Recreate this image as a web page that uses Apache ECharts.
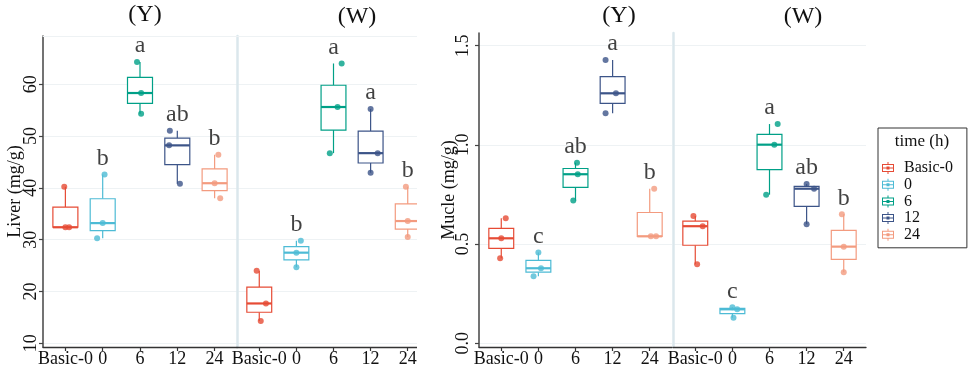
<!DOCTYPE html>
<html>
<head>
<meta charset="utf-8">
<script src="https://cdn.jsdelivr.net/npm/echarts@6/dist/echarts.min.js"></script>
<style>
html,body{margin:0;padding:0;background:#fff;}
#chart{width:969px;height:372px;}
</style>
</head>
<body>
<div id="chart"></div>
<script>
var categories = ['Basic-0', '0', '6', '12', '24'];
var colors = ['#E64B35', '#4DBBD5', '#00A087', '#3C5488', '#F39B7F'];

// three samples per group
var liverYValues = [[40.2, 32.4, 32.4], [42.6, 33.2, 30.3], [64.3, 58.3, 54.3], [51.0, 48.2, 40.8], [46.4, 40.9, 38.0]];
var liverWValues = [[24.0, 17.7, 14.3], [29.8, 27.5, 24.7], [64.0, 55.6, 46.7], [55.2, 46.7, 42.9], [40.2, 33.6, 30.5]];
var mucleYValues = [[0.630, 0.529, 0.428], [0.458, 0.378, 0.338], [0.910, 0.852, 0.719], [1.428, 1.260, 1.159], [0.779, 0.539, 0.539]];
var mucleWValues = [[0.642, 0.590, 0.398], [0.181, 0.171, 0.128], [1.105, 1.001, 0.749], [0.803, 0.779, 0.600], [0.650, 0.487, 0.358]];

var liverYLetters = ['', 'b', 'a', 'ab', 'b'];
var liverWLetters = ['', 'b', 'a', 'a', 'b'];
var mucleYLetters = ['', 'c', 'ab', 'a', 'b'];
var mucleWLetters = ['', 'c', 'a', 'ab', 'b'];

var liverTicks = [10, 20, 30, 40, 50, 60];
var mucleTicks = [0, 0.5, 1.0, 1.5];

// horizontal jitter of the points (in category units)
var liverYJitter = [[-0.03, 0, 0.1], [0.05, 0, -0.15], [-0.08, 0.03, 0.03], [-0.2, -0.22, 0.07], [0.1, 0, 0.15]];
var liverWJitter = [[-0.07, 0.18, 0.04], [0.12, 0, 0], [0.22, 0.11, -0.1], [0, 0.19, 0], [-0.05, 0, 0]];
var mucleYJitter = [[0.12, 0, -0.03], [0, 0.07, -0.13], [0.04, 0.06, -0.06], [-0.19, 0.09, -0.19], [0.12, 0.03, 0.17]];
var mucleWJitter = [[-0.05, 0.2, 0.05], [0, 0.13, 0.03], [0.22, 0.13, -0.09], [0, 0.2, 0], [-0.05, 0, 0]];

var serif = '"Liberation Serif", "Times New Roman", serif';
var txt = '#111';

function quantile(s, p) {
  var h = (s.length - 1) * p, lo = Math.floor(h);
  var hi = Math.min(lo + 1, s.length - 1);
  return s[lo] + (h - lo) * (s[hi] - s[lo]);
}
function boxStats(vals) {
  var s = vals.slice().sort(function (a, b) { return a - b; });
  return [s[0], quantile(s, 0.25), quantile(s, 0.5), quantile(s, 0.75), s[s.length - 1]];
}

var panels = [
  { values: liverYValues, jitter: liverYJitter, letters: liverYLetters, ticks: liverTicks, min: 9.3, max: 69.3,
    grid: { left: 43, top: 36, width: 194, height: 311 }, main: true, name: 'Liver (mg/g)', margin: 3, nameGap: 19, topLine: true },
  { values: liverWValues, jitter: liverWJitter, letters: liverWLetters, ticks: liverTicks, min: 9.3, max: 69.3,
    grid: { left: 237, top: 36, width: 193, height: 311 }, main: false, topLine: true },
  { values: mucleYValues, jitter: mucleYJitter, letters: mucleYLetters, ticks: mucleTicks, min: -0.019, max: 1.564,
    grid: { left: 479, top: 33, width: 193, height: 314 }, main: true, name: 'Mucle (mg/g)', margin: 7, nameGap: 21 },
  { values: mucleWValues, jitter: mucleWJitter, letters: mucleWLetters, ticks: mucleTicks, min: -0.019, max: 1.564,
    grid: { left: 673, top: 33, width: 193, height: 314 }, main: false }
];

function renderBox(params, api) {
  var ci = api.value(0);
  var c = colors[ci];
  var x = api.coord([ci, api.value(3)])[0];
  var yLow = api.coord([ci, api.value(1)])[1];
  var yQ1 = api.coord([ci, api.value(2)])[1];
  var yMed = api.coord([ci, api.value(3)])[1];
  var yQ3 = api.coord([ci, api.value(4)])[1];
  var yHigh = api.coord([ci, api.value(5)])[1];
  var half = api.size([1, 0])[0] * 0.335;
  return {
    type: 'group',
    children: [
      { type: 'line', shape: { x1: x, y1: yHigh, x2: x, y2: yQ3 }, style: { stroke: c, lineWidth: 1.2 } },
      { type: 'line', shape: { x1: x, y1: yQ1, x2: x, y2: yLow }, style: { stroke: c, lineWidth: 1.2 } },
      { type: 'rect', shape: { x: x - half, y: yQ3, width: half * 2, height: yQ1 - yQ3 }, style: { fill: '#fff', stroke: c, lineWidth: 1.2 } },
      { type: 'line', shape: { x1: x - half, y1: yMed, x2: x + half, y2: yMed }, style: { stroke: c, lineWidth: 2.2 } }
    ]
  };
}

var grids = [], xAxes = [], yAxes = [], series = [];
panels.forEach(function (p, pi) {
  grids.push(p.grid);
  xAxes.push({
    type: 'value', gridIndex: pi, min: -0.6, max: 4.6,
    splitLine: { show: false },
    axisLine: { show: true, onZero: false, lineStyle: { color: '#333', width: 1.3 } },
    axisTick: { show: true, length: 4, customValues: [0, 1, 2, 3, 4], lineStyle: { color: '#333', width: 1.2 } },
    axisLabel: { customValues: [0, 1, 2, 3, 4], margin: 3, fontFamily: serif, fontSize: 18, color: txt,
      formatter: function (v) { return categories[Math.round(v)]; } }
  });
  yAxes.push({
    type: 'value', gridIndex: pi, min: p.min, max: p.max,
    name: p.main ? p.name : '', nameLocation: 'middle', nameGap: p.nameGap || 20, nameMoveOverlap: false,
    nameTextStyle: { fontFamily: serif, fontSize: 18, color: txt },
    axisLine: p.main ? { show: true, onZero: false, lineStyle: { color: '#444', width: 1.5 } }
                     : { show: true, onZero: false, lineStyle: { color: '#dbe7ec', width: 2.5 } },
    axisTick: { show: p.main, length: 4, customValues: p.ticks, lineStyle: { color: '#444', width: 1.2 } },
    axisLabel: { show: p.main, customValues: p.ticks, rotate: 90, margin: p.margin, fontFamily: serif, fontSize: 18, color: txt,
      formatter: function (v) { return p.ticks[1] < 1 ? v.toFixed(1) : String(v); } },
    splitLine: { show: true, lineStyle: { color: '#eef2f4', width: 1 } }
  });
  if (p.topLine) {
    xAxes.push({
      type: 'value', gridIndex: pi, position: 'top', min: -0.6, max: 4.6,
      axisLine: { show: true, onZero: false, lineStyle: { color: '#eef2f4', width: 1 } },
      axisTick: { show: false }, axisLabel: { show: false }, splitLine: { show: false }
    });
  }
});

panels.forEach(function (p, pi) {
  var xi = xAxes.findIndex(function (a) { return a.gridIndex === pi; });
  var pts = [], lets = [];
  p.values.forEach(function (vals, ci) {
    var st = boxStats(vals);
    series.push({
      name: categories[ci], type: 'custom', xAxisIndex: xi, yAxisIndex: pi,
      itemStyle: { color: colors[ci] },
      renderItem: renderBox,
      data: [[ci].concat(st)], z: 2
    });
    vals.forEach(function (v, k) { pts.push([ci + p.jitter[ci][k], v, ci]); });
    if (p.letters[ci]) lets.push([ci, st[4], p.letters[ci]]);
  });
  series.push({
    name: 'points', type: 'scatter', xAxisIndex: xi, yAxisIndex: pi, symbolSize: 6, z: 3,
    itemStyle: { color: function (d) { return colors[d.data[2]]; } },
    data: pts
  });
  series.push({
    name: 'letters', type: 'scatter', xAxisIndex: xi, yAxisIndex: pi, symbolSize: 0, z: 4, silent: true,
    label: { show: true, position: 'top', distance: 4, fontFamily: serif, fontSize: 24, color: txt,
      formatter: function (d) { return d.data[2]; } },
    data: lets
  });
});

var iconPath = 'path://M1 2h12v1H1zM1 9h12v1H1zM1 2h1v8H1zM12 2h1v8h-1zM1 5.5h12v1H1zM6.5 0h1v2h-1zM6.5 10h1v2h-1zM5.5 4.5h3v3h-3z';

var chart = echarts.init(document.getElementById('chart'));
chart.setOption({
  animation: false,
  backgroundColor: '#fff',
  grid: grids,
  xAxis: xAxes,
  yAxis: yAxes,
  legend: {
    data: categories, orient: 'vertical', left: 878, top: 128,
    padding: [32, 14, 5, 4], itemGap: 0.7, itemWidth: 22, itemHeight: 12,
    icon: iconPath, selectedMode: false,
    borderColor: '#333', borderWidth: 1,
    textStyle: { fontFamily: serif, fontSize: 16, color: txt, lineHeight: 16 }
  },
  graphic: [
    { type: 'rect', shape: { x: 417, y: 28, width: 22, height: 335 }, style: { fill: '#fff' }, z: 100 },
    { type: 'text', x: 145, y: 15, style: { text: '(Y)', font: '24px ' + serif, fill: txt, textAlign: 'center', textVerticalAlign: 'middle' } },
    { type: 'text', x: 357, y: 17, style: { text: '(W)', font: '24px ' + serif, fill: txt, textAlign: 'center', textVerticalAlign: 'middle' } },
    { type: 'text', x: 619, y: 16, style: { text: '(Y)', font: '24px ' + serif, fill: txt, textAlign: 'center', textVerticalAlign: 'middle' } },
    { type: 'text', x: 803, y: 17, style: { text: '(W)', font: '24px ' + serif, fill: txt, textAlign: 'center', textVerticalAlign: 'middle' } },
    { type: 'text', x: 922, y: 142, style: { text: 'time (h)', font: '17px ' + serif, fill: txt, textAlign: 'center', textVerticalAlign: 'middle' } }
  ],
  series: series
});
window.addEventListener('resize', function () {
  chart.resize();
});
</script>
</body>
</html>
